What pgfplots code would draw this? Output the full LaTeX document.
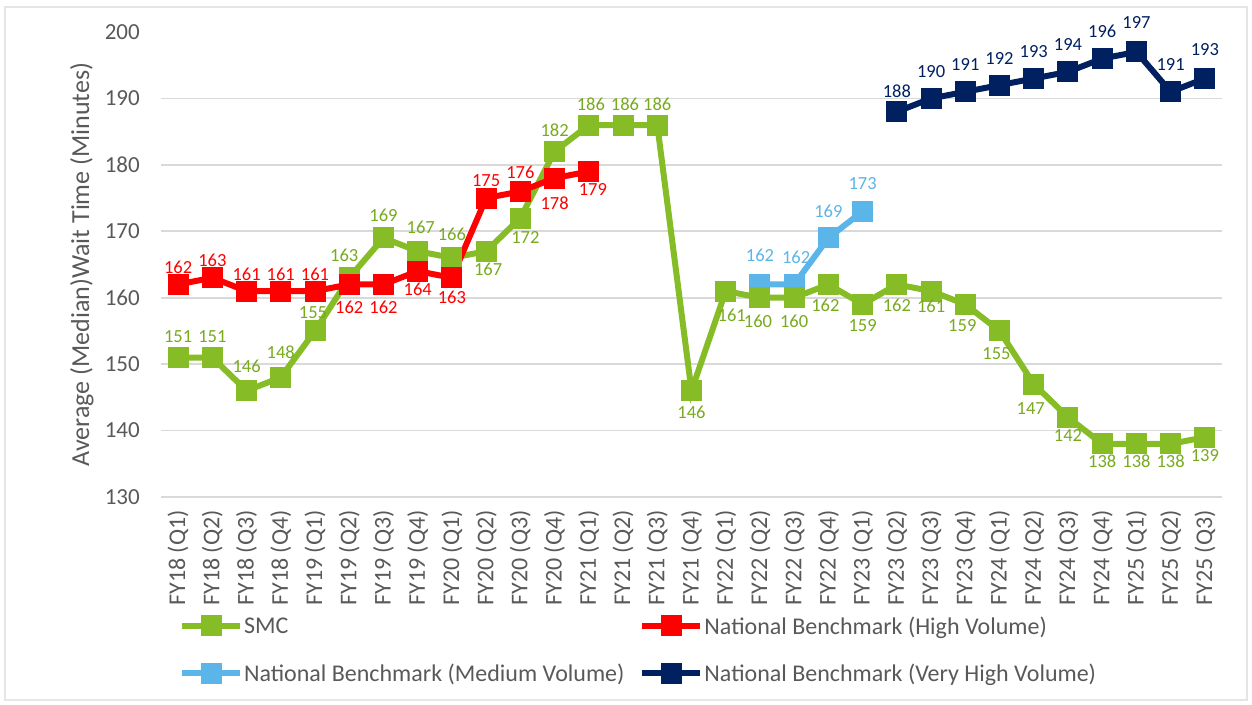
\documentclass[border=0pt]{standalone}
\usepackage{fontspec}
\setmainfont{Carlito}
\usepackage{pgfplots}
\usepackage{pgfplotstable}
\pgfplotsset{compat=1.18}

\definecolor{smcgreen}{RGB}{134,188,37}
\definecolor{smclab}{RGB}{120,170,30}
\definecolor{nbred}{RGB}{255,0,0}
\definecolor{nblblue}{RGB}{91,181,232}
\definecolor{nbnavy}{RGB}{0,32,96}
\definecolor{txtgray}{RGB}{89,89,89}

\pgfplotstableread{
x y dy dx
0 151 21 0
1 151 21 0
2 146 24 0
3 148 25 0
4 155 18 -2
5 163 22 -5
6 169 23 0
7 167 24 3
8 166 24 0
9 167 -18 2
10 172 -19 5
11 182 21 0
12 186 21 2
13 186 21 2
14 186 21 0
15 146 -22 0
16 161 -24 6
17 160 -24 -2
18 160 -24 0
19 162 -21 -3
20 159 -21 0
21 162 -21 0
22 161 -15 0
23 159 -21 -3
24 155 -23 -3
25 147 -24 -3
26 142 -18 0
27 138 -17 0
28 138 -17 0
29 138 -17 0
30 139 -18 0
}\smc

\pgfplotstableread{
x y dy dx
0 162 17 0
1 163 17 0
2 161 17 0
3 161 17 0
4 161 17 0
5 162 -23 0
6 162 -23 0
7 164 -18 0
8 163 -20 0
9 175 17 0
10 176 19 0
11 178 -25 0
12 179 -18 4
}\nbhigh

\pgfplotstableread{
x y dy dx
17 162 29 0
18 162 27 2
19 169 27 0
20 173 28 0
}\nbmed

\pgfplotstableread{
x y dy dx
21 188 20 0
22 190 27 0
23 191 27 0
24 192 27 0
25 193 27 0
26 194 27 0
27 196 27 0
28 197 29 0
29 191 27 0
30 193 29 0
}\nbvhigh

\begin{document}
\begin{tikzpicture}
\useasboundingbox (0pt,0pt) rectangle (1252pt,704pt);
\draw[gray!20, line width=1.2pt] (5pt,4pt) rectangle (1247pt,697pt);
\begin{axis}[
  at={(161pt,207pt)}, anchor=south west,
  scale only axis, width=1061pt, height=465pt,
  xmin=-0.5, xmax=30.5, ymin=130, ymax=200,
  clip=false,
  axis line style={draw=none},
  tick style={draw=none},
  ytick={130,140,...,190},
  extra y ticks={200},
  extra y tick style={grid=none},
  ymajorgrids,
  grid style={draw=gray!30, line width=1.6pt},
  /pgf/number format/assume math mode=true,
  yticklabel style={font=\fontsize{23}{27}\selectfont, text=txtgray, inner sep=0pt},
  yticklabel shift=21pt,
  xtick={0,...,30},
  xticklabels={FY18 (Q1),FY18 (Q2),FY18 (Q3),FY18 (Q4),FY19 (Q1),FY19 (Q2),FY19 (Q3),FY19 (Q4),FY20 (Q1),FY20 (Q2),FY20 (Q3),FY20 (Q4),FY21 (Q1),FY21 (Q2),FY21 (Q3),FY21 (Q4),FY22 (Q1),FY22 (Q2),FY22 (Q3),FY22 (Q4),FY23 (Q1),FY23 (Q2),FY23 (Q3),FY23 (Q4),FY24 (Q1),FY24 (Q2),FY24 (Q3),FY24 (Q4),FY25 (Q1),FY25 (Q2),FY25 (Q3)},
  xticklabel style={font=\fontsize{24}{28}\selectfont, text=txtgray, rotate=90, anchor=east, inner sep=0pt},
  xticklabel shift=13pt,
  ylabel={Average (Median)Wait Time (Minutes)},
  every axis y label/.style={at={(axis description cs:-0.0745,0.5)}, rotate=90, anchor=center, font=\fontsize{26}{30}\selectfont, text=txtgray},
  legend columns=2,
  legend style={at={(axis description cs:0.014,-0.250)}, anchor=north west, draw=none, fill=none,
    font=\fontsize{24}{28}\selectfont, text=txtgray,
    nodes={inner sep=1pt},
    row sep=26pt,
    /tikz/column 2/.style={column sep=14pt}},
  legend cell align=left,
  legend image code/.code={\draw[mark repeat=2,mark phase=2,#1] plot coordinates {(0pt,0pt) (29pt,0pt) (58pt,0pt)};},
  nodes near coords,
  point meta=explicit symbolic,
  visualization depends on={\thisrow{dy} \as \dy},
  visualization depends on={\thisrow{dx} \as \dx},
  every node near coord/.append style={anchor=center, yshift=\dy pt, xshift=\dx pt, font=\fontsize{18.5}{22}\selectfont, inner sep=0pt},
  every axis plot/.append style={line width=6pt, mark=square*, mark size=7.5pt, mark options={solid}},
]
\addplot[color=nblblue, forget plot, every node near coord/.append style={text=nblblue}] table[x=x, y=y, meta=y] {\nbmed};
\addplot[color=smcgreen, forget plot, every node near coord/.append style={text=smclab}] table[x=x, y=y, meta=y] {\smc};
\addplot[color=nbred, forget plot, every node near coord/.append style={text=nbred}] table[x=x, y=y, meta=y] {\nbhigh};
\addplot[color=nbnavy, forget plot, every node near coord/.append style={text=nbnavy}] table[x=x, y=y, meta=y] {\nbvhigh};

\addlegendimage{color=smcgreen, line width=6pt, mark=square*, mark size=7.5pt}
\addlegendentry{SMC}
\addlegendimage{color=nbred, line width=6pt, mark=square*, mark size=7.5pt}
\addlegendentry{National Benchmark (High Volume)}
\addlegendimage{color=nblblue, line width=6pt, mark=square*, mark size=7.5pt}
\addlegendentry{National Benchmark (Medium Volume)}
\addlegendimage{color=nbnavy, line width=6pt, mark=square*, mark size=7.5pt}
\addlegendentry{National Benchmark (Very High Volume)}
\end{axis}
\end{tikzpicture}
\end{document}
